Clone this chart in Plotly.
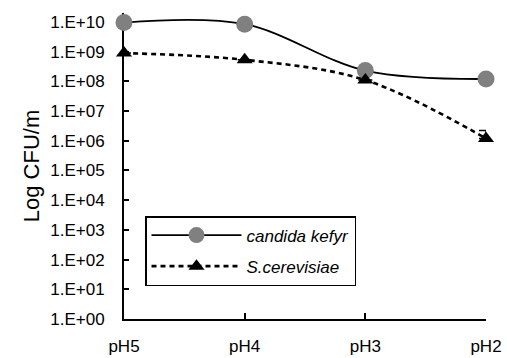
import plotly.graph_objects as go

categories = ["pH5", "pH4", "pH3", "pH2"]
candida_kefyr = [9.5e9, 8.4e9, 2.3e8, 1.2e8]
s_cerevisiae = [8.9e8, 5.3e8, 1.1e8, 1.2e6]
s_cerevisiae_err_plus = [0, 0, 0, 1.0e6]
s_cerevisiae_err_minus = [0, 0, 0, 0]
y_tickvals = [10**i for i in range(0, 11)]
y_ticktext = ["1.E+%02d" % i for i in range(0, 11)]

FONT = "Liberation Sans, Arial, sans-serif"
Y_TOP = 10.3  # small headroom so the smoothed line is not clipped

fig = go.Figure()
fig.add_trace(go.Scatter(
    x=categories, y=candida_kefyr, name="candida kefyr", legendgroup="a",
    mode="lines+markers", line=dict(color="black", width=1.8, shape="spline", smoothing=1),
    marker=dict(color="#808080", size=17, symbol="circle"),
    cliponaxis=False,
))
fig.add_trace(go.Scatter(
    x=categories, y=s_cerevisiae, name="S.cerevisiae", legendgroup="b",
    mode="lines+markers", line=dict(color="black", width=2.6, dash="5px,4px", shape="spline", smoothing=1),
    marker=dict(color="black", size=14, symbol="triangle-up"),
    error_y=dict(type="data", symmetric=False, array=s_cerevisiae_err_plus,
                 arrayminus=s_cerevisiae_err_minus, color="black", thickness=1.5, width=7),
    cliponaxis=False,
))

decade_px = 297 / 10.0
top_m = round(22 - (Y_TOP - 10) * decade_px)
plot_h = 358 - top_m - 39
fig.update_layout(
    template="none",
    width=507, height=358,
    margin=dict(l=124, r=21, t=top_m, b=39),
    paper_bgcolor="white", plot_bgcolor="white",
    font=dict(family=FONT, size=17, color="black"),
    showlegend=True,
    legend=dict(
        x=21 / 362, y=(319 - 216) / plot_h, xanchor="left", yanchor="top",
        bordercolor="black", borderwidth=1.5, bgcolor="white",
        font=dict(family=FONT, size=17, color="black", style="italic"),
        tracegroupgap=6, itemwidth=90,
    ),
)
fig.update_xaxes(
    type="category", range=[0, 3], automargin=False,
    showline=True, linecolor="black", linewidth=2,
    ticks="inside", ticklen=6, tickwidth=2, tickcolor="black",
    showgrid=False, zeroline=False, layer="below traces",
    ticklabelstandoff=11,
    tickfont=dict(family=FONT, size=17, color="black"),
)
fig.update_yaxes(
    type="log", range=[0, Y_TOP], automargin=False,
    tickvals=y_tickvals, ticktext=y_ticktext,
    showline=True, linecolor="black", linewidth=2,
    ticks="inside", ticklen=5, tickwidth=2, tickcolor="black",
    showgrid=False, zeroline=False, layer="below traces",
    ticklabelstandoff=14,
    tickfont=dict(family=FONT, size=17, color="black"),
    title=dict(text="Log CFU/m", font=dict(family=FONT, size=22, color="black"), standoff=5),
)

fig.write_html("out.html")
